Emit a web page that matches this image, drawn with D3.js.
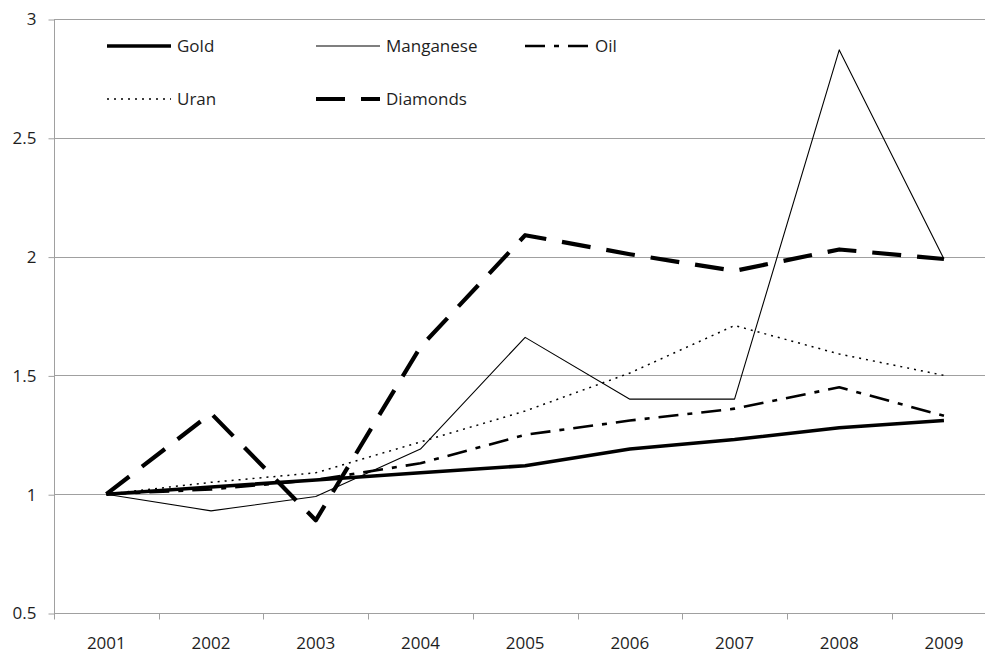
<!DOCTYPE html>
<html>
<head>
<meta charset="utf-8">
<script src="https://cdn.jsdelivr.net/npm/d3@7"></script>
<style>
  html, body { margin: 0; padding: 0; background: #fff; }
  svg { display: block; }
  text { font-family: "Open Sans", sans-serif; fill: #1e1e1e; }
</style>
</head>
<body>
<svg id="chart" width="985" height="654"></svg>
<script>
// Price index relative to 2001 for five commodities
const years = ["2001", "2002", "2003", "2004", "2005", "2006", "2007", "2008", "2009"];
const gold      = [1.00, 1.03, 1.06, 1.09, 1.12, 1.19, 1.23, 1.28, 1.31];
const manganese = [1.00, 0.93, 0.99, 1.19, 1.66, 1.40, 1.40, 2.87, 1.99];
const oil       = [1.00, 1.02, 1.06, 1.13, 1.25, 1.31, 1.36, 1.45, 1.33];
const uran      = [1.00, 1.05, 1.09, 1.22, 1.35, 1.51, 1.71, 1.59, 1.50];
const diamonds  = [1.00, 1.34, 0.89, 1.62, 2.09, 2.01, 1.94, 2.03, 1.99];
const yTicks    = [0.5, 1, 1.5, 2, 2.5, 3];

const seriesNames = ["Gold", "Manganese", "Oil", "Uran", "Diamonds"];
const seriesData  = [gold, manganese, oil, uran, diamonds];

// stroke styles for each series
const styles = {
  Gold:      { width: 3.6, dash: null },
  Manganese: { width: 1.1, dash: null },
  Oil:       { width: 2.6, dash: "20,9,5,9" },
  Uran:      { width: 1.5, dash: "2,5" },
  Diamonds:  { width: 4.2, dash: "29,16" }
};

const svg = d3.select("#chart");
const plotLeft = 54, plotTop = 19, plotBottom = 613;
const step = 104.7;
const plotRight = plotLeft + step * years.length;

const x = d3.scaleBand().domain(years).range([plotLeft, plotRight]);
const y = d3.scaleLinear().domain([0.5, 3]).range([plotBottom, plotTop]);

const gridColor = "#a0a0a0";

// horizontal gridlines
svg.append("g").selectAll("line").data(yTicks).join("line")
  .attr("x1", plotLeft).attr("x2", plotRight)
  .attr("y1", d => Math.round(y(d)) + 0.5).attr("y2", d => Math.round(y(d)) + 0.5)
  .attr("stroke", gridColor).attr("stroke-width", 1);

// y axis
const yAxis = d3.axisLeft(y).tickValues(yTicks).tickSize(6).tickPadding(12)
  .tickFormat(d => String(d));
const gy = svg.append("g").attr("transform", `translate(${plotLeft + 0.5},0.5)`).call(yAxis);
gy.select(".domain").attr("stroke", gridColor).attr("d", `M0,${plotTop}V${plotBottom}`);
gy.selectAll(".tick line").attr("stroke", gridColor);
gy.selectAll(".tick text").style("font-size", "17px").attr("fill", "#1e1e1e");

// x axis with ticks between categories
const gx = svg.append("g").attr("transform", `translate(0,${plotBottom + 0.5})`);
gx.append("line").attr("x1", plotLeft).attr("x2", plotRight).attr("stroke", gridColor);
gx.selectAll("line.tk").data(d3.range(years.length + 1)).join("line")
  .attr("class", "tk")
  .attr("x1", i => Math.round(plotLeft + i * x.step()) + 0.5)
  .attr("x2", i => Math.round(plotLeft + i * x.step()) + 0.5)
  .attr("y1", 0).attr("y2", 6).attr("stroke", gridColor);
gx.selectAll("text").data(years).join("text")
  .attr("x", d => x(d) + x.bandwidth() / 2)
  .attr("y", 35)
  .attr("text-anchor", "middle")
  .style("font-size", "17px")
  .text(d => d);

// series lines
const line = d3.line()
  .x((d, i) => x(years[i]) + x.bandwidth() / 2)
  .y(d => y(d));

seriesNames.forEach((name, k) => {
  const s = styles[name];
  svg.append("path")
    .datum(seriesData[k])
    .attr("d", line)
    .attr("fill", "none")
    .attr("stroke", "#000")
    .attr("stroke-width", s.width)
    .attr("stroke-dasharray", s.dash)
    .attr("stroke-linejoin", "round");
});

// legend, three columns by two rows
const legCols = [107, 316, 525];
const legRows = [46, 99];
const legend = svg.append("g");
seriesNames.forEach((name, k) => {
  const s = styles[name];
  const lx = legCols[k % 3], ly = legRows[Math.floor(k / 3)];
  legend.append("line")
    .attr("x1", lx).attr("x2", lx + 64)
    .attr("y1", ly).attr("y2", ly)
    .attr("stroke", "#000")
    .attr("stroke-width", s.width)
    .attr("stroke-dasharray", s.dash);
  legend.append("text")
    .attr("x", lx + 70).attr("y", ly)
    .attr("dy", "0.35em")
    .style("font-size", "17px")
    .text(name);
});
</script>
</body>
</html>
